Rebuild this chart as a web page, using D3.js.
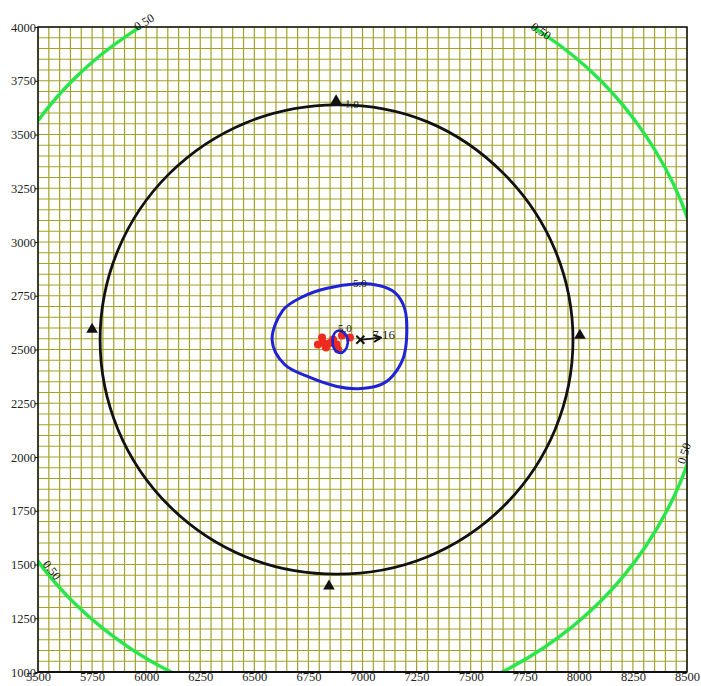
<!DOCTYPE html>
<html>
<head>
<meta charset="utf-8">
<script src="https://cdn.jsdelivr.net/npm/d3@7"></script>
<style>
  body { margin: 0; background: #fff; }
  svg { display: block; }
  text { font-family: "Liberation Serif", "Times New Roman", "DejaVu Serif", serif; }
</style>
</head>
<body>
<svg id="chart" width="701" height="686"></svg>
<script>
// Axis ticks and grid spacing
const xTicks = [5500, 5750, 6000, 6250, 6500, 6750, 7000, 7250, 7500, 7750, 8000, 8250, 8500];
const yTicks = [1000, 1250, 1500, 1750, 2000, 2250, 2500, 2750, 3000, 3250, 3500, 3750, 4000];
const gridStep = 50;

// Contour 0.50 (green)
const contour050 = [
  [8600, 2540], [8469, 3198], [8096, 3756], [7538, 4129], [6880, 4260], [6222, 4129],
  [5664, 3756], [5291, 3198], [5160, 2540], [5291, 1882], [5664, 1324], [6222, 951],
  [6880, 820], [7538, 951], [8096, 1324], [8469, 1882]
];

// Contour 1.0 (black)
const contour10 = [
  [7973, 2545], [7890, 2963], [7653, 3318], [7298, 3560], [6880, 3638], [6462, 3555],
  [6107, 3318], [5870, 2963], [5787, 2545], [5870, 2127], [6107, 1772], [6462, 1535],
  [6880, 1455], [7298, 1535], [7653, 1772], [7890, 2127]
];

// Contour 5.0 (blue, outer blob)
const contour50 = [
  [6582, 2546], [6630, 2680], [6725, 2746], [6836, 2785], [6975, 2806], [7075, 2798],
  [7150, 2765], [7195, 2690], [7205, 2580], [7190, 2465], [7140, 2378], [7080, 2335],
  [6980, 2318], [6882, 2328], [6757, 2370], [6640, 2430]
];

// Contour 5.0 (blue, small inner ring)
const contour50inner = [
  [6896, 2588], [6925, 2565], [6932, 2530], [6918, 2495], [6893, 2485], [6868, 2505],
  [6862, 2545], [6872, 2578]
];

// Red spots near the source
const redSpots = [
  [6794, 2523], [6813, 2556], [6831, 2509], [6864, 2546], [6887, 2500], [6905, 2565], [6942, 2556],
  [6850, 2530], [6880, 2525], [6820, 2530]
];

// Triangle markers
const triangles = [[6878, 3656], [5750, 2593], [8005, 2565], [6845, 1399]];

// Contour labels
const labels050 = [[5990, 4023], [7825, 3981], [8486, 2017], [5565, 1474]];
const labelText050 = "0.50";
const labels10 = [[6951, 3642]];
const labels50 = [[6988, 2808], [6918, 2600]];

// Max point marker and its value
const maxPoint = [6990, 2545];
const maxArrowTo = [7085, 2555];
const maxLabel = [7045, 2568];
const maxValue = "7.16";

// Chart setup
const svg = d3.select("#chart");
const margin = { top: 27, right: 14, bottom: 14, left: 38 };
const width = +svg.attr("width");
const height = +svg.attr("height");
const innerWidth = width - margin.left - margin.right;
const innerHeight = height - margin.top - margin.bottom;

const x = d3.scaleLinear().domain([5500, 8500]).range([0, innerWidth]);
const y = d3.scaleLinear().domain([1000, 4000]).range([innerHeight, 0]);

const g = svg.append("g").attr("transform", `translate(${margin.left},${margin.top})`);

g.append("clipPath").attr("id", "plot-clip")
  .append("rect").attr("width", innerWidth).attr("height", innerHeight);

// grid
const gridColor = "#a2a22a";
g.append("g").selectAll("line")
  .data(d3.range(5500, 8500 + 1, gridStep))
  .join("line")
    .attr("x1", d => x(d)).attr("x2", d => x(d))
    .attr("y1", 0).attr("y2", innerHeight)
    .attr("stroke", gridColor).attr("stroke-width", 1.2);
g.append("g").selectAll("line")
  .data(d3.range(1000, 4000 + 1, gridStep))
  .join("line")
    .attr("y1", d => y(d)).attr("y2", d => y(d))
    .attr("x1", 0).attr("x2", innerWidth)
    .attr("stroke", gridColor).attr("stroke-width", 1.2);

// contours
const contourLine = d3.line()
  .x(d => x(d[0]))
  .y(d => y(d[1]))
  .curve(d3.curveCardinalClosed.tension(0));

const contours = g.append("g").attr("clip-path", "url(#plot-clip)");
contours.append("path").datum(contour050)
  .attr("d", contourLine).attr("fill", "none")
  .attr("stroke", "#2be64a").attr("stroke-width", 3.5);
contours.append("path").datum(contour10)
  .attr("d", contourLine).attr("fill", "none")
  .attr("stroke", "#111").attr("stroke-width", 2.8);

contours.selectAll("circle.red")
  .data(redSpots)
  .join("circle")
    .attr("class", "red")
    .attr("cx", d => x(d[0])).attr("cy", d => y(d[1]))
    .attr("r", 4).attr("fill", "#f02a1e");

contours.append("path").datum(contour50)
  .attr("d", contourLine).attr("fill", "none")
  .attr("stroke", "#1f22d6").attr("stroke-width", 3);
contours.append("path").datum(contour50inner)
  .attr("d", contourLine).attr("fill", "none")
  .attr("stroke", "#1f22d6").attr("stroke-width", 2.6);

// frame
g.append("rect")
  .attr("width", innerWidth).attr("height", innerHeight)
  .attr("fill", "none").attr("stroke", "#111").attr("stroke-width", 1.5);
g.append("line")
  .attr("x1", 0).attr("x2", innerWidth)
  .attr("y1", innerHeight).attr("y2", innerHeight)
  .attr("stroke", "#111").attr("stroke-width", 2);

// axes
const xAxis = g.append("g")
  .attr("transform", `translate(0,${innerHeight})`)
  .call(d3.axisBottom(x).tickValues(xTicks).tickSize(0).tickPadding(0).tickFormat(d3.format("d")));
const yAxis = g.append("g")
  .call(d3.axisLeft(y).tickValues(yTicks).tickSize(3).tickPadding(-1).tickFormat(d3.format("d")));
[xAxis, yAxis].forEach(a => {
  a.attr("font-family", "\"Liberation Serif\", \"Times New Roman\", serif").attr("font-size", 13);
  a.select(".domain").remove();
  a.selectAll("text")
    .attr("fill", "#222")
    .style("font-size", "12.5px");
  a.selectAll(".tick line").attr("stroke", "#111");
});

// triangles
g.selectAll("path.tri")
  .data(triangles)
  .join("path")
    .attr("class", "tri")
    .attr("d", d3.symbol(d3.symbolTriangle, 58))
    .attr("transform", d => `translate(${x(d[0])},${y(d[1])})`)
    .attr("fill", "#111");

// max point: cross + arrow + value
const mx = x(maxPoint[0]), my = y(maxPoint[1]);
g.append("path")
  .attr("d", `M${mx - 4},${my - 4}L${mx + 4},${my + 4}M${mx - 4},${my + 4}L${mx + 4},${my - 4}`)
  .attr("stroke", "#111").attr("stroke-width", 2);
svg.append("defs").append("marker")
  .attr("id", "arrow").attr("viewBox", "0 0 10 10")
  .attr("refX", 9).attr("refY", 5)
  .attr("markerWidth", 5).attr("markerHeight", 5)
  .attr("orient", "auto")
  .append("path").attr("d", "M1,1L9,5L1,9").attr("fill", "none")
  .attr("stroke", "#111").attr("stroke-width", 2.2);
g.append("line")
  .attr("x1", mx).attr("y1", my)
  .attr("x2", x(maxArrowTo[0])).attr("y2", y(maxArrowTo[1]))
  .attr("stroke", "#111").attr("stroke-width", 1.8)
  .attr("marker-end", "url(#arrow)");
g.append("text")
  .attr("x", x(maxLabel[0])).attr("y", y(maxLabel[1]))
  .attr("dy", "0.35em")
  .style("font-size", "13px")
  .attr("fill", "#222")
  .text(maxValue);

// contour labels, rotated along the ring
function ringAngle(pt, ring) {
  const cx = d3.mean(ring, d => x(d[0]));
  const cy = d3.mean(ring, d => y(d[1]));
  let a = Math.atan2(y(pt[1]) - cy, x(pt[0]) - cx) * 180 / Math.PI + 90;
  if (a > 90) a -= 180;
  if (a < -90) a += 180;
  return a;
}

g.selectAll("text.l050")
  .data(labels050)
  .join("text")
    .attr("class", "l050")
    .attr("text-anchor", "middle")
    .attr("dy", "0.35em")
    .attr("transform", d => `translate(${x(d[0])},${y(d[1])}) rotate(${ringAngle(d, contour050)})`)
    .style("font-size", "12px")
    .attr("fill", "#111")
    .text(labelText050);

g.selectAll("text.l10")
  .data(labels10)
  .join("text")
    .attr("class", "l10")
    .attr("text-anchor", "middle")
    .attr("dy", "0.35em")
    .attr("transform", d => `translate(${x(d[0])},${y(d[1])}) rotate(${ringAngle(d, contour10)})`)
    .style("font-size", "11px")
    .attr("fill", "#111")
    .text("1.0");

g.selectAll("text.l50")
  .data(labels50)
  .join("text")
    .attr("class", "l50")
    .attr("text-anchor", "middle")
    .attr("dy", "0.35em")
    .attr("x", d => x(d[0])).attr("y", d => y(d[1]))
    .style("font-size", "11px")
    .attr("fill", "#111")
    .text("5.0");
</script>
</body>
</html>
